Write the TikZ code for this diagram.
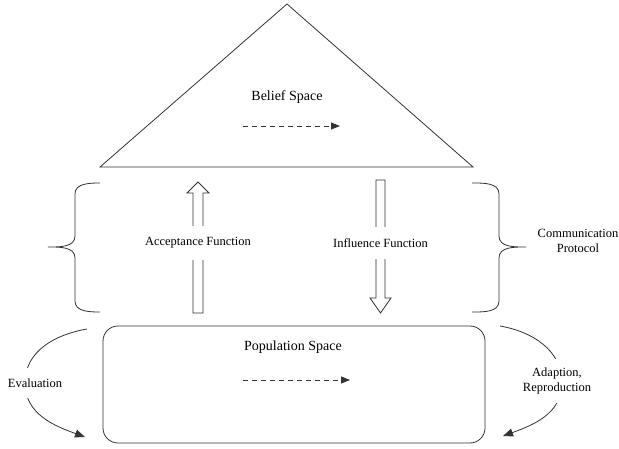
\documentclass[tikz,border=0pt]{standalone}
\usepackage{fontspec}
\setmainfont{Liberation Serif}
\usetikzlibrary{arrows.meta}

\begin{document}
\begin{tikzpicture}[
    x=1pt, y=1pt,
    every node/.style={font=\fontsize{12.5}{15}\selectfont, align=center},
    edge/.style={draw=black!80, line width=0.8pt},
    title/.style={font=\fontsize{14}{16}\selectfont},
    gaplbl/.style={fill=white, inner xsep=2pt},
    spacebox/.style={edge, rounded corners=15pt, minimum width=382pt, minimum height=117pt},
    block/.style={edge, line join=miter},
    flow/.style={edge, dash pattern=on 5pt off 4pt, -{Triangle[length=9pt,width=7pt]}},
    cycle arrow/.style={edge, -{Triangle[length=10pt,width=8pt]}}
]
    \useasboundingbox (0,0) rectangle (619,448);

    % Belief space (triangle)
    \coordinate (apex) at (287,444);
    \coordinate (bl) at (100,281);
    \coordinate (br) at (473,281);
    \draw[edge] (apex) -- (bl) -- (br) -- cycle;
    \node[title] (belief) at (287,351) {Belief Space};
    \coordinate (bf1) at (243,322);
    \coordinate (bf2) at (340,322);
    \draw[flow] (bf1) -- (bf2);

    % Population space (rounded box)
    \node[spacebox] (pop) at (294,63.5) {};
    \node[title] (poplbl) at (293,101) {Population Space};
    \coordinate (pf1) at (243,68);
    \coordinate (pf2) at (350,68);
    \draw[flow] (pf1) -- (pf2);

    % Block arrows between the spaces
    \coordinate (acc) at (198,135);
    \draw[block] ([xshift=-5pt]acc) -- ++(0,120) -- ++(-6,0) -- (198,266)
        -- (209,255) -- (203,255) -- ([xshift=5pt]acc) -- cycle;
    \coordinate (inf) at (380.5,268);
    \draw[block] ([xshift=-4.5pt]inf) -- ++(0,-118) -- ++(-6,0) -- (380.5,135)
        -- (391,150) -- (385,150) -- ([xshift=4.5pt]inf) -- cycle;
    \node[gaplbl, inner ysep=12pt] (acclbl) at (198,205) {Acceptance Function};
    \node[gaplbl, inner ysep=12pt] (inflbl) at (380.5,205) {Influence Function};

    % Braces
    \draw[edge] (100,265) to[out=180,in=90] (75,254) -- (75,212)
        to[out=-90,in=0] (48,201) to[out=0,in=90] (75,190) -- (75,147)
        to[out=-90,in=180] (100,136);
    \draw[edge] (472,265) to[out=0,in=90] (499,254) -- (499,212)
        to[out=-90,in=180] (526,201) to[out=180,in=90] (499,190) -- (499,147)
        to[out=-90,in=0] (472,136);
    \node (comm) at (578,207) {Communication\\Protocol};

    % Cycle arrows
    \coordinate (ev1) at (87,119);
    \coordinate (ev2) at (85,11);
    \draw[cycle arrow] (ev1) to[out=190,in=90] (25,65) to[out=-90,in=160] (ev2);
    \node[gaplbl, inner ysep=11pt] (eval) at (35,65) {Evaluation};
    \coordinate (ad1) at (500,122);
    \coordinate (ad2) at (503,12);
    \draw[cycle arrow] (ad1) to[out=-10,in=90] (562,65) to[out=-90,in=20] (ad2);
    \node[gaplbl, inner ysep=9pt] (adapt) at (557,67) {Adaption,\\Reproduction};
\end{tikzpicture}
\end{document}
